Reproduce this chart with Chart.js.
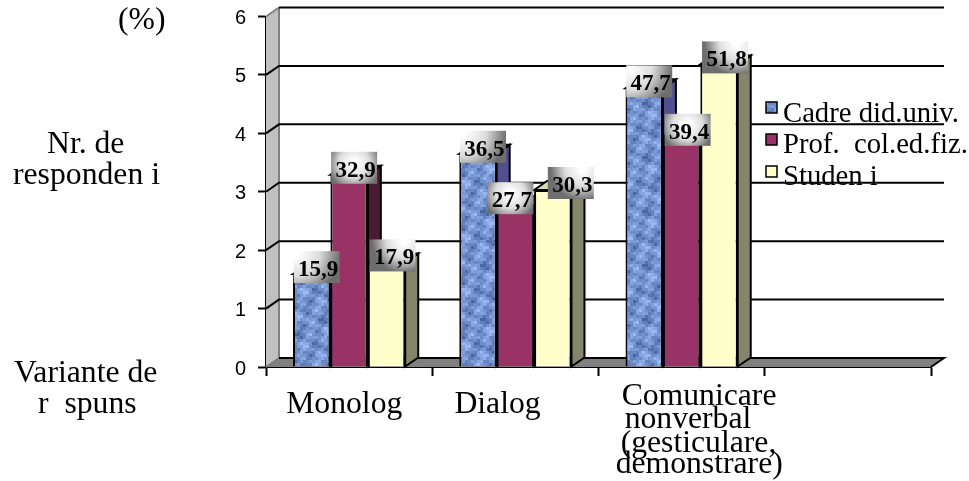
<!DOCTYPE html>
<html><head><meta charset="utf-8">
<style>html,body{margin:0;padding:0;background:#fff}canvas{display:block}</style>
<script src="https://cdn.jsdelivr.net/npm/chart.js@4/dist/chart.umd.min.js"></script>
</head><body><canvas id="c" width="969" height="481"></canvas>
<script>
const categories = ['Monolog', 'Dialog', ['Comunicare', 'nonverbal', '(gesticulare,', 'demonstrare)'], ''];
const seriesNames = ['Cadre did.univ.', 'Prof.  col.ed.fiz.', 'Studen i'];
const cadre = [1.59, 3.65, 4.77, null];
const prof = [3.29, 2.77, 3.94, null];
const studenti = [1.79, 3.03, 5.18, null];
const yTicks = [0, 1, 2, 3, 4, 5, 6];
const sideTexts = ['(%)', 'Nr. de', 'responden i', 'Variante de', 'r  spuns'];

const sidePos = [[118, 29], [47, 153], [13, 184], [14, 382], [38, 413]];
const catLineLeft = [[-63], [-61], [-60, -57, -61, -66]];
const catLineY = [[413], [413], [405, 428, 452, 473]];
const legendTextY = [122, 153, 185];
const legendBoxY = [102, 134, 166];
const labelShiftX = [[5, 5, 5], [5, -5, 6], [6, 18, 6]];
const glow = [[-0.45, -0.45, 44], [0, -0.15, 27], [0.25, -0.45, 32]];
const DX = 13, DY = -9;
const serif = '"Liberation Serif"';

function denim() {
  const t = document.createElement('canvas'); t.width = t.height = 54;
  const g = t.getContext('2d');
  for (let y = 0; y < 54; y += 3) for (let x = 0; x < 54; x += 3) {
    const v = Math.sin(x * 0.349 + y * 0.116) + Math.sin(y * 0.465 - x * 0.233) + Math.sin((x + y) * 0.698) * 0.8 + Math.cos(x * 0.116) * Math.sin(y * 0.233);
    const k = Math.min(1, Math.max(0, (v + 3.8) / 6.2));
    g.fillStyle = `rgb(${Math.round(55 + 100 * k)},${Math.round(85 + 100 * k)},${Math.round(145 + 100 * k)})`;
    g.fillRect(x, y, 3, 3);
  }
  return g.createPattern(t, 'repeat');
}
const ctxMain = document.getElementById('c').getContext('2d');
const frontFills = [denim(), '#993366', '#FFFFCC'];
const sideFills = ['#50508F', '#4D1A33', '#858569'];
const topFills = ['#6F6FB0', '#7A2952', '#DADAAE'];
const swatchFills = ['#6F93D3', '#993366', '#FFFFCC'];

function poly(c, pts, fill, stroke, lw) {
  c.beginPath(); pts.forEach((p, i) => i ? c.lineTo(p[0], p[1]) : c.moveTo(p[0], p[1])); c.closePath();
  if (fill) { c.fillStyle = fill; c.fill(); }
  if (stroke) { c.strokeStyle = stroke; c.lineWidth = lw; c.stroke(); }
}

const scene = {
  id: 'scene',
  beforeDraw(chart) {
    chart.scales.y.getLabelItems().forEach(it => { it.options.translation[1] += 2; });
  },
  beforeDatasetsDraw(chart) {
    const c = chart.ctx, a = chart.chartArea, y = chart.scales.y;
    c.save();
    poly(c, [[a.left, a.top], [a.left + DX, a.top + DY], [a.left + DX, a.bottom + DY], [a.left, a.bottom]], '#C0C0C0');
    poly(c, [[a.left, a.bottom], [a.left + DX, a.bottom + DY], [a.right + DX, a.bottom + DY], [a.right, a.bottom]], '#808080');
    c.strokeStyle = '#808080'; c.lineWidth = 2;
    c.beginPath();
    c.moveTo(a.left + DX, a.top + DY); c.lineTo(a.left + DX, a.bottom + DY);
    c.moveTo(a.left, a.top); c.lineTo(a.left + DX, a.top + DY);
    c.moveTo(a.left, a.bottom); c.lineTo(a.left + DX, a.bottom + DY);
    c.stroke();
    c.strokeStyle = '#000'; c.lineWidth = 2;
    yTicks.forEach(v => {
      const p = y.getPixelForValue(v);
      c.beginPath();
      if (v !== 6 && v !== 0) { c.moveTo(a.left, p); c.lineTo(a.left + DX, p + DY); } else c.moveTo(a.left + DX, p + DY);
      c.lineTo(a.right + DX, p + DY);
      if (v === 0) c.lineTo(a.right, p);
      c.stroke();
    });
    chart.data.datasets.forEach((ds, i) => {
      chart.getDatasetMeta(i).data.forEach((bar, j) => {
        if (ds.data[j] == null) return;
        const L = bar.x - bar.width / 2, R = bar.x + bar.width / 2, T = bar.y, B = bar.base;
        poly(c, [[R, B], [R + DX, B + DY], [R + DX, T + DY], [R, T]], sideFills[i], '#000', 2);
        poly(c, [[L, T], [L + DX, T + DY], [R + DX, T + DY], [R, T]], topFills[i], '#000', 2);
      });
    });
    c.restore();
  },
  afterDatasetsDraw(chart) {
    const c = chart.ctx;
    c.save();
    // value labels
    c.font = 'bold 23px ' + serif; c.textAlign = 'center'; c.textBaseline = 'middle';
    chart.data.datasets.forEach((ds, i) => {
      chart.getDatasetMeta(i).data.forEach((bar, j) => {
        if (ds.data[j] == null) return;
        const cx = bar.x + labelShiftX[i][j], cy = bar.y - 7, w = 46, h = 32;
        const gx = cx + glow[i][0] * w, gy = cy + glow[i][1] * h;
        const g = c.createRadialGradient(gx, gy, 3, gx, gy, glow[i][2]);
        g.addColorStop(0, '#FFFFFF'); g.addColorStop(0.5, '#DDDDDD'); g.addColorStop(1, '#6E6E6E');
        c.fillStyle = g; c.fillRect(cx - w / 2, cy - h / 2, w, h);
        c.fillStyle = '#000';
        c.fillText((ds.data[j] * 10).toFixed(1).replace('.', ','), cx + 1.5, cy + 3);
      });
    });
    // category labels
    const x = chart.scales.x;
    c.font = '31.7px ' + serif; c.textAlign = 'left'; c.textBaseline = 'alphabetic'; c.fillStyle = '#000';
    categories.forEach((lab, i) => {
      if (!lab) return;
      [].concat(lab).forEach((line, k) => c.fillText(line, x.getPixelForValue(i) + catLineLeft[i][k], catLineY[i][k]));
    });
    // side notes
    sideTexts.forEach((t, i) => c.fillText(t, sidePos[i][0], sidePos[i][1]));
    // legend
    c.font = '28.7px ' + serif;
    seriesNames.forEach((t, i) => {
      c.fillStyle = i === 0 ? frontFills[0] : swatchFills[i];
      c.fillRect(766, legendBoxY[i], 11, 11);
      c.strokeStyle = '#000'; c.lineWidth = 1.5; c.strokeRect(766, legendBoxY[i], 11, 11);
      c.fillStyle = '#000'; c.fillText(t, 783, legendTextY[i]);
    });
    c.restore();
  }
};

new Chart(ctxMain, {
  type: 'bar',
  data: {
    labels: categories.map(l => [].concat(l).join(' ')),
    datasets: [cadre, prof, studenti].map((d, i) => ({
      label: seriesNames[i], data: d, backgroundColor: frontFills[i], borderColor: '#000', borderWidth: 2,
      categoryPercentage: 0.675, barPercentage: 1
    }))
  },
  options: {
    responsive: false, animation: false, events: [],
    layout: { padding: { left: 226, top: 16.5, right: 38, bottom: 100 } },
    plugins: { legend: { display: false }, tooltip: { enabled: false } },
    scales: {
      x: {
        afterFit(s) { s.height = 14; s.paddingLeft = s.paddingRight = 0; },
        grid: { drawOnChartArea: false, drawTicks: true, tickLength: 9, color: '#000', tickColor: '#000', tickWidth: 2 },
        border: { color: '#000', width: 2 },
        ticks: { display: false }
      },
      y: {
        min: 0, max: 6,
        afterFit(s) { s.width = 40; s.paddingTop = s.paddingBottom = 0; },
        grid: { drawOnChartArea: false, tickLength: 8, color: '#000', tickColor: '#000', tickWidth: 2 },
        border: { color: '#000', width: 2 },
        ticks: { stepSize: 1, color: '#000', padding: 12, font: { family: '"Liberation Sans"', size: 20 } }
      }
    }
  },
  plugins: [scene]
});
</script></body></html>
